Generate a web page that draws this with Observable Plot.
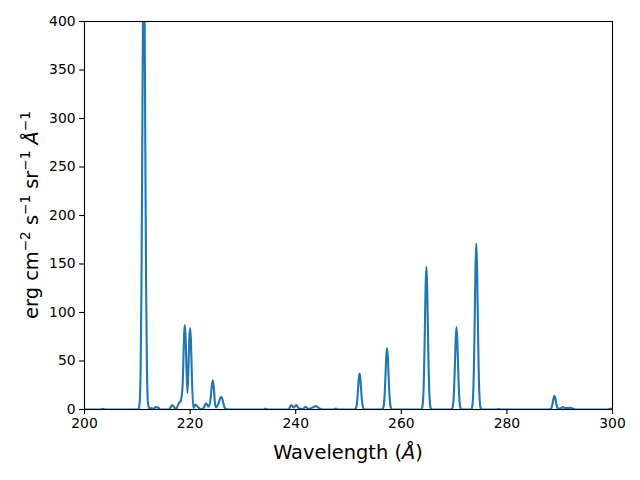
<!DOCTYPE html>
<html>
<head>
<meta charset="utf-8">
<script src="https://cdn.jsdelivr.net/npm/d3@7"></script>
<script src="https://cdn.jsdelivr.net/npm/@observablehq/plot@0.6"></script>
<style>
  html, body { margin: 0; padding: 0; background: #fff; }
  svg { display: block; }
</style>
</head>
<body>
<div id="chart"></div>
<script>
// Wavelength (Å) samples
const wavelength = [
  200, 203.0, 203.5, 204.0, 210.2,
  210.43, 210.63, 210.78, 210.93, 211.08, 211.23, 211.38, 211.53, 211.68, 211.83, 212.03,
  212.3, 212.6, 213.0, 213.5, 213.9, 214.3, 216.0, 216.6, 217.1, 217.4, 217.8, 218.2,
  218.55, 218.7, 218.85, 219.0, 219.15, 219.3, 219.5, 219.7, 219.85, 220.0, 220.15, 220.3, 220.6,
  221.0, 221.6, 222.0, 222.5, 223.0, 223.5, 223.9, 224.1, 224.3, 224.5, 224.7, 224.9,
  225.3, 225.7, 225.9, 226.1, 226.4, 226.8, 227.2,
  234.0, 234.3, 234.6, 238.6, 239.2, 239.6, 240.1, 240.6, 241.3, 241.9, 242.4, 243.0, 243.9, 244.5, 245.0,
  247.2, 247.6, 248.0,
  251.1, 251.3, 251.5, 251.65, 251.8, 251.95, 252.1, 252.25, 252.4, 252.55, 252.7, 252.9, 253.1,
  256.3, 256.5, 256.7, 256.85, 257.0, 257.15, 257.3, 257.45, 257.6, 257.75, 257.9, 258.1, 258.3,
  263.75, 263.95, 264.15, 264.3, 264.45, 264.6, 264.75, 264.9, 265.05, 265.2, 265.35, 265.55, 265.75,
  269.45, 269.65, 269.85, 270.0, 270.15, 270.3, 270.45, 270.6, 270.75, 270.9, 271.05, 271.25, 271.45,
  273.2, 273.4, 273.6, 273.75, 273.9, 274.05, 274.2, 274.35, 274.5, 274.65, 274.8, 275.0, 275.2,
  278.2, 278.5, 278.8,
  288.0, 288.4, 288.55, 288.7, 288.85, 289.0, 289.15, 289.3, 289.45, 289.6, 289.8, 290.2, 290.6, 291.0, 291.5, 292.0, 292.5, 293.0,
  299.0, 299.6, 300
];
// Intensity (erg cm^-2 s^-1 sr^-1 Å^-1) at each sample
const intensity = [
  0, 0, 0.8, 0, 0,
  6, 41, 120, 259, 411, 480, 411, 259, 120, 41, 6,
  1, 1.5, 0.8, 2.5, 2, 0, 0, 4.5, 1.5, 0.8, 6, 8.5,
  22, 45, 75, 87, 75, 45, 17, 45, 73, 84, 72, 42, 1.5,
  5, 2, 0.3, 1, 6.5, 3, 12, 24, 30, 22, 7, 2,
  5, 11.5, 13, 11, 4, 0.5, 0,
  0, 1, 0, 0, 4.5, 2, 4.5, 1, 0.5, 2.8, 0.5, 1.5, 3.5, 1, 0,
  0, 1, 0,
  0, 0.5, 3.1, 9.2, 20, 32, 37, 32, 20, 9.2, 3.1, 0.5, 0,
  0, 0.8, 5.4, 15.7, 34, 54, 63, 54, 34, 15.7, 5.4, 0.8, 0,
  0, 1.8, 12.5, 36.6, 79, 126, 147, 126, 79, 36.6, 12.5, 1.8, 0,
  0, 1, 7.2, 21.2, 45.8, 72.8, 85, 72.8, 45.8, 21.2, 7.2, 1, 0,
  0, 2.1, 14.5, 42.6, 92.2, 146.5, 171, 146.5, 92.2, 42.6, 14.5, 2.1, 0,
  0, 0.4, 0,
  0, 1.2, 3.5, 7.5, 12, 14, 12, 7.5, 3.5, 1.5, 1, 1, 2.5, 1.5, 1.5, 1.8, 0.8, 0,
  0, 0.8, 0.5
];
const xTicks = [200, 220, 240, 260, 280, 300];
const yTicks = [0, 50, 100, 150, 200, 250, 300, 350, 400];

const data = wavelength.map((w, i) => ({w, v: intensity[i]}));

const tick = 4.9;
const svg = Plot.plot({
  width: 640,
  height: 480,
  marginLeft: 84,
  marginRight: 28,
  marginTop: 21,
  marginBottom: 71,
  style: {fontFamily: "DejaVu Sans", fontSize: "13.9px", color: "black", background: "white"},
  x: {domain: [200, 300]},
  y: {domain: [0, 400]},
  marks: [
    Plot.line(data, {x: "w", y: "v", stroke: "#1f77b4", strokeWidth: 2.1, curve: "monotone-x", clip: true}),
    Plot.frame({stroke: "black", strokeWidth: 1.1}),
    Plot.axisX({ticks: xTicks, tickSize: tick, tickPadding: 4, label: null, tickFormat: d => String(d), stroke: "black", strokeWidth: 1.1}),
    Plot.axisY({ticks: yTicks, tickSize: tick, tickPadding: 4, label: null, tickFormat: d => String(d), stroke: "black", strokeWidth: 1.1})
  ]
});
document.getElementById("chart").appendChild(svg);

const s = d3.select(svg);
// x label
const xl = s.append("text")
  .attr("x", 348).attr("y", 459)
  .attr("text-anchor", "middle")
  .attr("font-family", "DejaVu Sans")
  .attr("font-size", "19.4px")
  .attr("fill", "black");
xl.append("tspan").text("Wavelength (");
xl.append("tspan").attr("font-style", "italic").text("Å");
xl.append("tspan").text(")");

// y label
const yl = s.append("text")
  .attr("transform", "translate(38,215) rotate(-90)")
  .attr("text-anchor", "middle")
  .attr("font-family", "DejaVu Sans")
  .attr("font-size", "19.4px")
  .attr("fill", "black");
function sup(t) {
  yl.append("tspan").attr("font-size", "13.6px").attr("dy", "-8").text(t);
}
function base(t, italic) {
  const ts = yl.append("tspan").attr("dy", "8").text(t);
  if (italic) ts.attr("font-style", "italic");
}
yl.append("tspan").text("erg cm");
sup("\u22122");
base("\u00a0s");
sup("\u22121");
base("\u00a0sr");
sup("\u22121");
base("\u00a0");
yl.append("tspan").attr("font-style", "italic").text("Å");
sup("\u22121");
</script>
</body>
</html>
